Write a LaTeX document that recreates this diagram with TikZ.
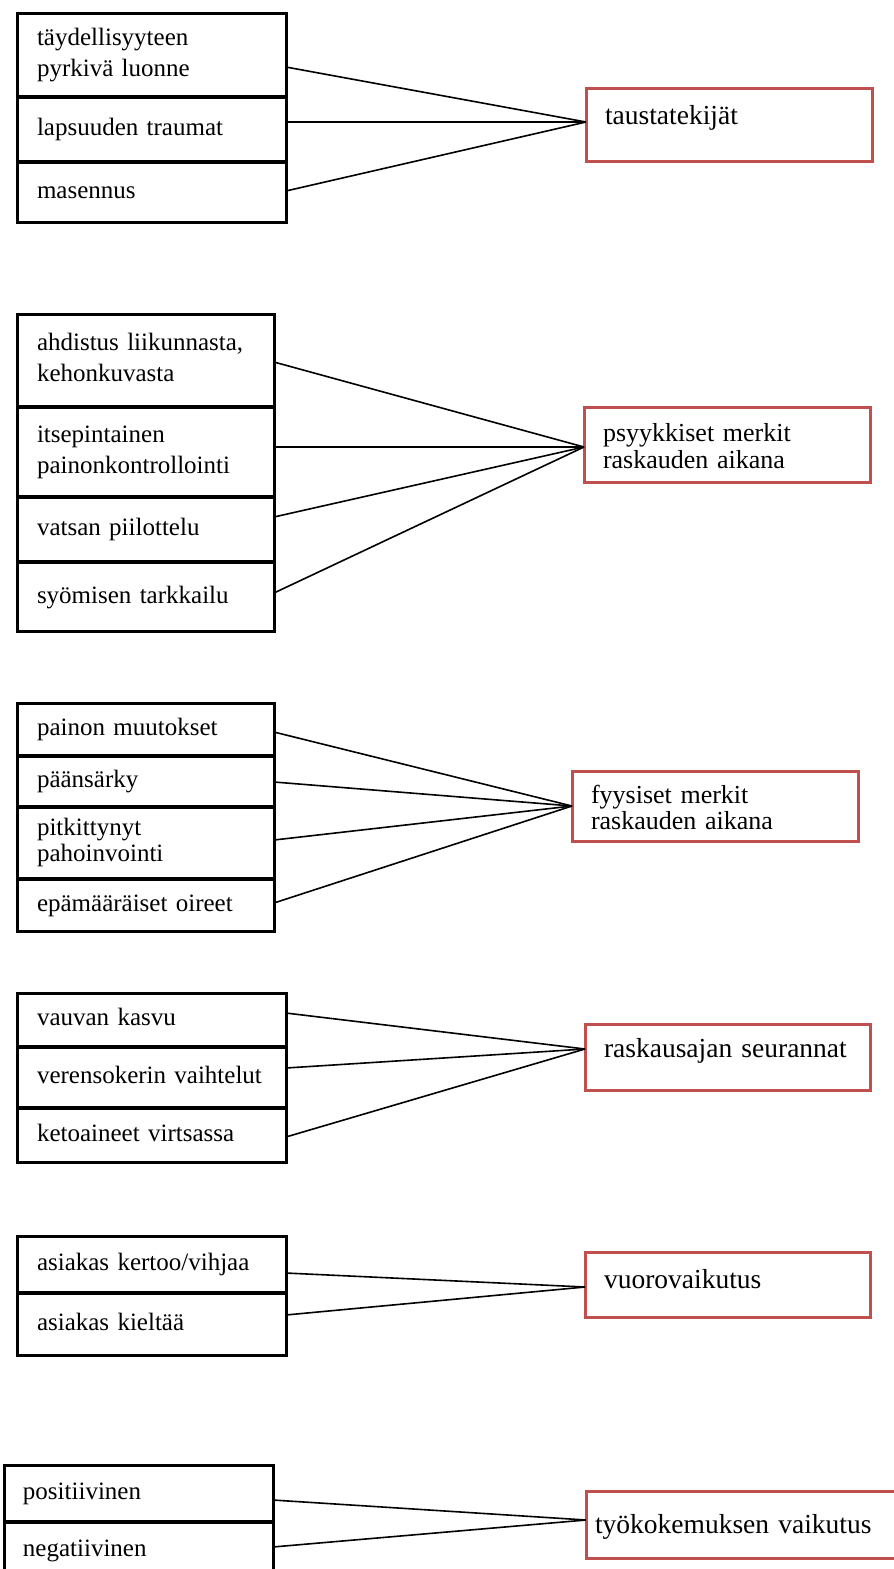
\documentclass[tikz,border=0pt]{standalone}
\usepackage{fontspec}
\setmainfont{Liberation Serif}
\definecolor{boxred}{RGB}{192,80,77}
\tikzset{
  lbox/.style={draw=black, fill=white, line width=3pt, rectangle, anchor=north west,
    inner xsep=20pt, inner ysep=0pt, outer sep=0pt, align=left,
    font=\fontsize{25}{31}\selectfont},
  rbox/.style={draw=boxred, fill=white, line width=3pt, rectangle, anchor=north west,
    inner xsep=19pt, inner ysep=0pt, outer sep=0pt, align=left,
    font=\fontsize{27.5}{32}\selectfont},
  rbox2/.style={rbox, font=\fontsize{26}{26.5}\selectfont},
  link/.style={draw=black, line width=1.6pt}
}
\begin{document}
\begin{tikzpicture}[x=1pt,y=-1pt]
\useasboundingbox (0,0) rectangle (894,1569);
\clip (0,0) rectangle (894,1569);
\fill[white] (0,0) rectangle (894,1569);

% ---------- group 1 ----------
\node[lbox, text width=229pt, minimum height=83.25pt] (g1a) at (17,13)
  {\strut täydellisyyteen\\\strut pyrkivä luonne};
\node[lbox, text width=229pt, minimum height=63.5pt] (g1b) at (17,97.75)
  {\strut lapsuuden traumat};
\node[lbox, text width=229pt, minimum height=59.25pt] (g1c) at (17,162.75)
  {\strut masennus};
\node[rbox, text width=248pt, minimum height=73pt, text height=22pt, text depth=23pt] (r1) at (586,88)
  {taustatekijät};
\draw[link] ([yshift=-12.4pt]g1a.east) -- ([yshift=2.5pt]r1.west);
\draw[link] ([yshift=7.5pt]g1b.east) -- ([yshift=2.5pt]r1.west);
\draw[link] ([yshift=1.4pt]g1c.east) -- ([yshift=2.5pt]r1.west);

% ---------- group 2 ----------
\node[lbox, text width=217pt, minimum height=92.25pt] (g2a) at (17,314)
  {\strut ahdistus liikunnasta,\\\strut kehonkuvasta};
\node[lbox, text width=217pt, minimum height=88.5pt] (g2b) at (17,407.75)
  {\strut itsepintainen\\\strut painonkontrollointi};
\node[lbox, text width=217pt, minimum height=63.5pt] (g2c) at (17,497.75)
  {\strut vatsan piilottelu};
\node[lbox, text width=217pt, minimum height=68.25pt] (g2d) at (17,562.75)
  {\strut syömisen tarkkailu};
\node[rbox2, text width=248pt, minimum height=75pt] (r2) at (584,407)
  {\rule{0pt}{29pt}psyykkiset merkit\\\strut raskauden aikana};
\draw[link] ([yshift=-1.9pt]g2a.east) -- ([yshift=-2.5pt]r2.west);
\draw[link] ([yshift=5pt]g2b.east) -- ([yshift=-2.5pt]r2.west);
\draw[link] ([yshift=12.5pt]g2c.east) -- ([yshift=-2.5pt]r2.west);
\draw[link] ([yshift=3.9pt]g2d.east) -- ([yshift=-2.5pt]r2.west);

% ---------- group 3 ----------
\node[lbox, text width=217pt, minimum height=52.25pt] (g3a) at (17,703)
  {\strut painon muutokset};
\node[lbox, text width=217pt, minimum height=49.5pt] (g3b) at (17,756.75)
  {\strut päänsärky};
\node[lbox, text width=217pt, minimum height=70.5pt, font=\fontsize{25}{26}\selectfont] (g3c) at (17,807.75)
  {\strut pitkittynyt\\\strut pahoinvointi};
\node[lbox, text width=217pt, minimum height=51.25pt] (g3d) at (17,879.75)
  {\strut epämääräiset oireet};
\node[rbox2, text width=248pt, minimum height=70pt] (r3) at (572,771)
  {\rule{0pt}{29pt}fyysiset merkit\\\strut raskauden aikana};
\draw[link] ([yshift=-2.9pt]g3a.east) -- (r3.west);
\draw[link] ([yshift=-0.5pt]g3b.east) -- (r3.west);
\draw[link] ([yshift=3pt]g3c.east) -- (r3.west);
\draw[link] ([yshift=2.4pt]g3d.east) -- (r3.west);

% ---------- group 4 ----------
\node[lbox, text width=229pt, minimum height=53.25pt] (g4a) at (17,993)
  {\strut vauvan kasvu};
\node[lbox, text width=229pt, minimum height=59.5pt] (g4b) at (17,1047.75)
  {\strut verensokerin vaihtelut};
\node[lbox, text width=229pt, minimum height=53.25pt] (g4c) at (17,1108.75)
  {\strut ketoaineet virtsassa};
\node[rbox, text width=247pt, minimum height=66pt, text height=22pt, text depth=22pt] (r4) at (585,1024)
  {raskausajan seurannat};
\draw[link] ([yshift=6.6pt]g4a.east) -- ([yshift=8pt]r4.west);
\draw[link] ([yshift=9.5pt]g4b.east) -- ([yshift=8pt]r4.west);
\draw[link] ([yshift=-1.6pt]g4c.east) -- ([yshift=8pt]r4.west);

% ---------- group 5 ----------
\node[lbox, text width=229pt, minimum height=56.25pt] (g5a) at (17,1236)
  {\strut asiakas kertoo/vihjaa};
\node[lbox, text width=229pt, minimum height=61.25pt] (g5b) at (17,1293.75)
  {\strut asiakas kieltää};
\node[rbox, text width=247pt, minimum height=65pt, text height=22pt, text depth=15pt] (r5) at (585,1252)
  {vuorovaikutus};
\draw[link] ([yshift=-8.9pt]g5a.east) -- ([yshift=-2.5pt]r5.west);
\draw[link] ([yshift=9.4pt]g5b.east) -- ([yshift=-2.5pt]r5.west);

% ---------- group 6 ----------
\node[lbox, inner xsep=19pt, text width=231pt, minimum height=56.25pt] (g6a) at (4,1465)
  {\strut positiivinen};
\node[lbox, inner xsep=19pt, text width=231pt, minimum height=55.25pt] (g6b) at (4,1522.75)
  {\strut negatiivinen};
\node[rbox, inner xsep=9pt, text width=312pt, minimum height=67pt, text height=22pt, text depth=5pt] (r6) at (586,1491)
  {työkokemuksen vaikutus};
\draw[link] ([yshift=-6.9pt]g6a.east) -- ([yshift=4.5pt]r6.west);
\draw[link] ([yshift=3.4pt]g6b.east) -- ([yshift=4.5pt]r6.west);
\end{tikzpicture}
\end{document}
